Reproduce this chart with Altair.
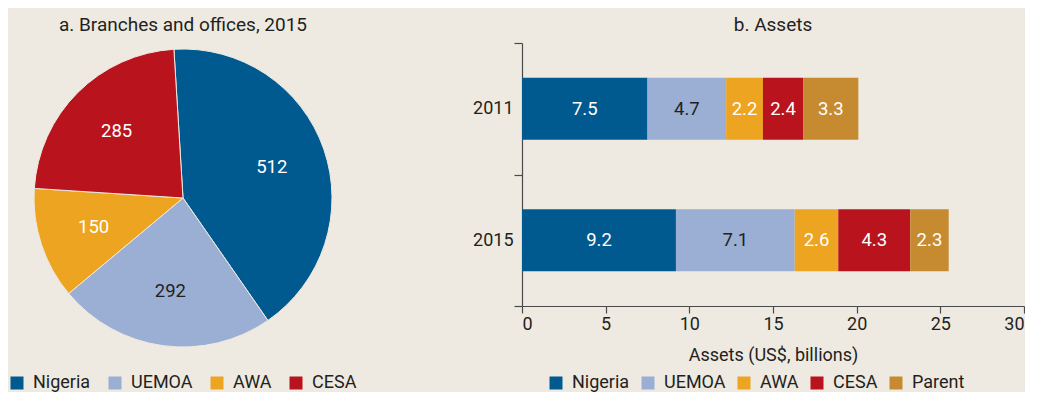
import math
import altair as alt
import pandas as pd

# ---- data ----
pie_title = "a. Branches and offices, 2015"
pie_regions = ["Nigeria", "UEMOA", "AWA", "CESA"]
pie_branches = [512, 292, 150, 285]

bar_title = "b. Assets"
years = ["2011", "2015"]
bar_regions = ["Nigeria", "UEMOA", "AWA", "CESA", "Parent"]
assets_2011 = [7.5, 4.7, 2.2, 2.4, 3.3]
assets_2015 = [9.2, 7.1, 2.6, 4.3, 2.3]
x_ticks = [0, 5, 10, 15, 20, 25, 30]

colors = ["#005A8F", "#9AAFD3", "#EDA421", "#B9141D", "#C68A30"]

BG = "#EEEAE1"
TXT = "#231F20"
AX = "#4A4A4A"
FONT = "Roboto"

PIE_W, PIE_H = 350, 310
BAR_W, BAR_H = 502, 263
LEG_Y = 331


def title_layer(text, width):
    return alt.Chart(pd.DataFrame({"t": [text]})).mark_text(
        font=FONT, fontSize=19, color=TXT, align="center", baseline="alphabetic"
    ).encode(text="t:N", x=alt.value(width / 2), y=alt.value(-12))


# ---- pie ----
pie_df = pd.DataFrame({"region": pie_regions, "count": pie_branches,
                       "order": list(range(len(pie_regions)))})
start = -0.061
pie_base = alt.Chart(pie_df).encode(
    theta=alt.Theta("count:Q", stack=True,
                    scale=alt.Scale(range=[start, start + 2 * math.pi])),
    order=alt.Order("order:Q"),
)
arcs = pie_base.mark_arc(outerRadius=149, stroke=BG, strokeWidth=1).encode(
    color=alt.Color("region:N",
                    scale=alt.Scale(domain=pie_regions, range=colors[:4]),
                    legend=alt.Legend(orient="none", direction="horizontal",
                                      legendX=0, legendY=LEG_Y, title=None,
                                      columnPadding=15)),
)
pie_text = pie_base.mark_text(radius=94, fontSize=18.5, font=FONT).encode(
    text=alt.Text("count:Q"),
    color=alt.condition(alt.datum.region == "UEMOA", alt.value(TXT), alt.value("white")),
)
pie = alt.layer(arcs, pie_text, title_layer(pie_title, PIE_W)).properties(
    width=PIE_W, height=PIE_H)

# ---- bars ----
bar_df = pd.DataFrame({
    "year": [y for y in years for _ in bar_regions],
    "region": bar_regions * 2,
    "value": assets_2011 + assets_2015,
    "order": list(range(len(bar_regions))) * 2,
})
ysc = alt.Scale(paddingInner=0, paddingOuter=0)
bars = alt.Chart(bar_df).mark_bar(height={"band": 0.47}).encode(
    x=alt.X("value:Q", stack="zero", scale=alt.Scale(domain=[0, 30]),
            axis=alt.Axis(values=x_ticks, title="Assets (US$, billions)",
                          grid=False, tickSize=7, labelPadding=2, titlePadding=13)),
    y=alt.Y("year:N", scale=ysc,
            axis=alt.Axis(title=None, tickBand="extent", tickSize=8, labelPadding=1, grid=False)),
    color=alt.Color("region:N",
                    scale=alt.Scale(domain=bar_regions, range=colors),
                    legend=alt.Legend(orient="none", direction="horizontal",
                                      legendX=25, legendY=LEG_Y, title=None,
                                      columnPadding=9)),
    order=alt.Order("order:Q"),
)
bar_text = alt.Chart(bar_df).transform_window(
    cum="sum(value)", sort=[alt.SortField("order")], groupby=["year"], frame=[None, 0]
).transform_calculate(
    mid="datum.cum - datum.value / 2"
).mark_text(fontSize=18.5, font=FONT).encode(
    x=alt.X("mid:Q"),
    y=alt.Y("year:N", scale=ysc),
    text=alt.Text("value:Q", format=".1f"),
    color=alt.condition(alt.datum.region == "UEMOA", alt.value(TXT), alt.value("white")),
)
bar = alt.layer(bars, bar_text, title_layer(bar_title, BAR_W)).properties(
    width=BAR_W, height=BAR_H)

chart = alt.hconcat(pie, bar, spacing=164, bounds="flush").resolve_scale(
    color="independent"
).configure(
    background=BG, padding={"top": 8, "left": 0, "right": 0, "bottom": 0}, font=FONT
).configure_view(
    stroke=None
).configure_axis(
    labelFont=FONT, labelFontSize=18, labelColor=TXT,
    titleFont=FONT, titleFontSize=18, titleColor=TXT, titleFontWeight="normal",
    domainColor=AX, tickColor=AX, domainWidth=1.2, tickWidth=1.2
).configure_legend(
    labelFont=FONT, labelFontSize=18, labelColor=TXT,
    symbolType="square", symbolSize=169, symbolStrokeWidth=0,
    labelOffset=7
)

chart.save("out.html", embed_options={"renderer": "svg", "actions": False})
